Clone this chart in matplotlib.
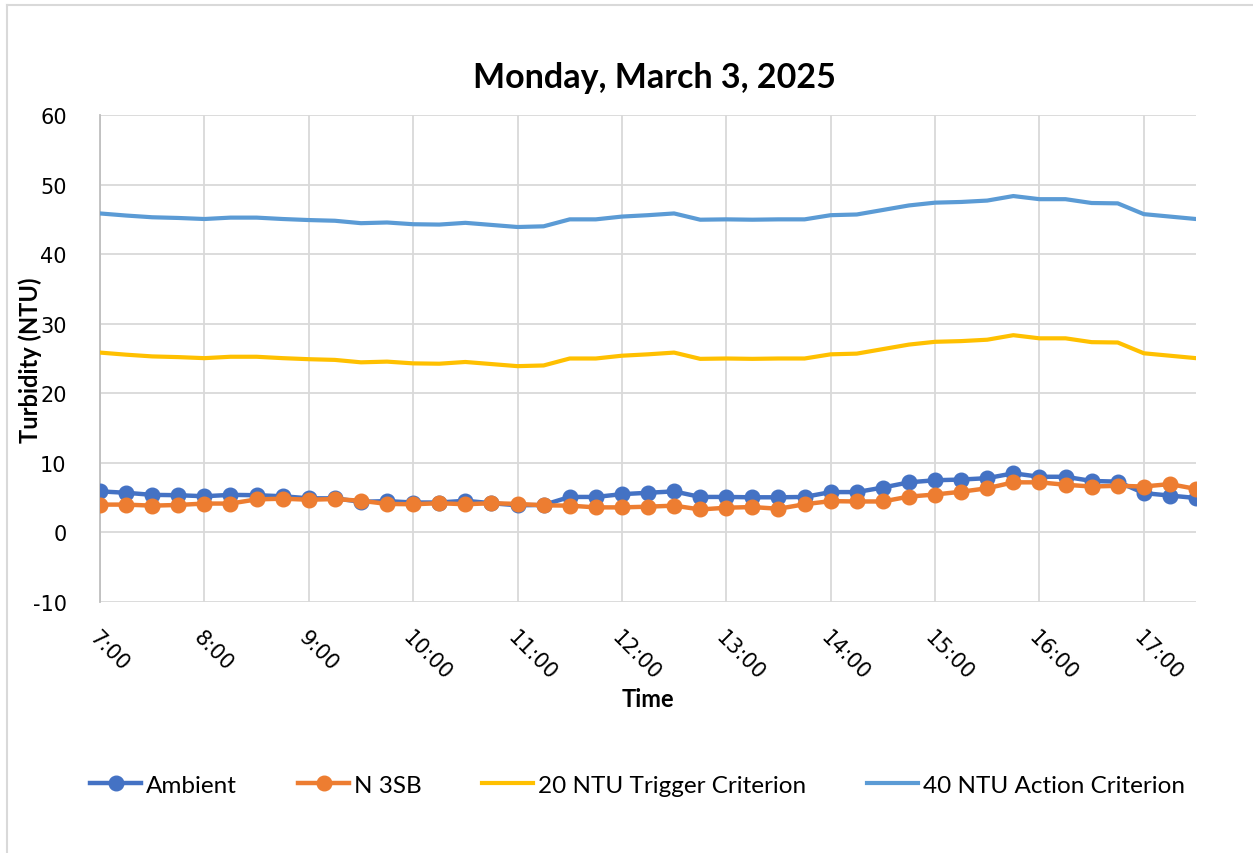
import numpy as np
import matplotlib
matplotlib.use('Agg')
import matplotlib.pyplot as plt
from matplotlib.lines import Line2D

plt.rcParams['font.family'] = ['Lato', 'DejaVu Sans']
plt.rcParams['axes.unicode_minus'] = False

### 15 minute readings, 7:00 to 17:30
times = ['7:00', '7:15', '7:30', '7:45', '8:00', '8:15', '8:30', '8:45',
         '9:00', '9:15', '9:30', '9:45', '10:00', '10:15', '10:30', '10:45',
         '11:00', '11:15', '11:30', '11:45', '12:00', '12:15', '12:30', '12:45',
         '13:00', '13:15', '13:30', '13:45', '14:00', '14:15', '14:30', '14:45',
         '15:00', '15:15', '15:30', '15:45', '16:00', '16:15', '16:30', '16:45',
         '17:00', '17:15', '17:30']
ambient = [5.9, 5.7, 5.4, 5.35, 5.2, 5.4, 5.35, 5.2, 4.9, 4.9, 4.4, 4.5, 4.3, 4.3, 4.55,
           4.2, 3.9, 3.95, 5.1, 5.1, 5.5, 5.7, 5.9, 5.1, 5.1, 5.05, 5.05, 5.1,
           5.8, 5.8, 6.45, 7.2, 7.5, 7.6, 7.8, 8.5, 8.0, 8.0, 7.4, 7.3, 5.65, 5.3, 4.95]
n3sb = [4.0, 4.0, 3.85, 3.95, 4.15, 4.15, 4.75, 4.85, 4.7, 4.8, 4.55, 4.1, 4.05, 4.2, 4.05,
        4.2, 4.1, 3.9, 3.85, 3.6, 3.6, 3.7, 3.85, 3.3, 3.55, 3.65, 3.4, 4.05,
        4.5, 4.45, 4.45, 5.15, 5.45, 5.85, 6.35, 7.2, 7.2, 6.85, 6.6, 6.7, 6.6, 6.95, 6.25]
trigger = [25.85, 25.55, 25.3, 25.2, 25.05, 25.25, 25.25, 25.05, 24.9, 24.8, 24.45, 24.55,
           24.3, 24.25, 24.5, 24.2, 23.9, 24.0, 25.0, 25.0, 25.4, 25.6, 25.85, 24.95,
           25.0, 24.95, 25.0, 25.0, 25.6, 25.7, 26.35, 27.0, 27.4, 27.5, 27.7, 28.35,
           27.9, 27.9, 27.35, 27.3, 25.75, 25.4, 25.05]
action = [45.85, 45.55, 45.3, 45.2, 45.05, 45.25, 45.25, 45.05, 44.9, 44.8, 44.45, 44.55,
          44.3, 44.25, 44.5, 44.2, 43.9, 44.0, 45.0, 45.0, 45.4, 45.6, 45.85, 44.95,
          45.0, 44.95, 45.0, 45.0, 45.6, 45.7, 46.35, 47.0, 47.4, 47.5, 47.7, 48.35,
          47.9, 47.9, 47.35, 47.3, 45.75, 45.4, 45.05]
hour_labels = ['7:00', '8:00', '9:00', '10:00', '11:00', '12:00',
               '13:00', '14:00', '15:00', '16:00', '17:00']

### convert "h:mm" to decimal hours
x = np.array([int(t.split(':')[0]) + int(t.split(':')[1]) / 60 for t in times])
hx = [int(t.split(':')[0]) for t in hour_labels]

fig = plt.figure(figsize=(12.53, 8.54), dpi=100)
ax = fig.add_axes([100/1253, 1-603/854, 1096/1253, 487/854])

ax.plot(x, ambient, color='#4472C4', lw=3.2, marker='o', ms=10.5, label='Ambient', zorder=3)
ax.plot(x, n3sb, color='#ED7D31', lw=3.2, marker='o', ms=10.5, label='N 3SB', zorder=4)
ax.plot(x, trigger, color='#FFC000', lw=3.0, label='20 NTU Trigger Criterion', zorder=3)
ax.plot(x, action, color='#5B9BD5', lw=3.0, label='40 NTU Action Criterion', zorder=3)

ax.set_xlim(7, 17.5)
ax.set_ylim(-10, 60)
ax.set_yticks(range(-10, 61, 10))
ax.set_xticks(hx)
ax.set_xticklabels(hour_labels, rotation=-45, ha='left', va='top', rotation_mode='anchor')
ax.tick_params(axis='both', length=0, labelsize=15, labelfontfamily='DejaVu Sans')
ax.tick_params(axis='y', pad=24)
ax.tick_params(axis='x', pad=18)
ax.grid(True, color='#D9D9D9', lw=1.3)
ax.set_axisbelow(True)
for s in ['top', 'right', 'bottom']:
    ax.spines[s].set_visible(False)
ax.spines['left'].set_color('#BFBFBF')
ax.spines['left'].set_linewidth(1.3)

fig.text(30/1253, 1-360/854, 'Turbidity (NTU)', fontsize=17, fontweight='bold',
         rotation=90, ha='center', va='center')
fig.text(648/1253, 1-700/854, 'Time', fontsize=17, fontweight='bold', ha='center', va='center')
fig.text(654/1253, 1-78/854, 'Monday, March 3, 2025', fontsize=24.5, fontweight='bold',
         ha='center', va='center')

fig.legend(loc='center', bbox_to_anchor=(0.509, 1-786/854), ncol=4, frameon=False,
           fontsize=17.5, handlelength=2.1, handletextpad=0.2, columnspacing=2.5)

### chart border (only left and top visible)
fig.add_artist(Line2D([7/1253, 7/1253], [0, 1-6/854], transform=fig.transFigure,
                      color='#D9D9D9', lw=1.5))
fig.add_artist(Line2D([7/1253, 1], [1-6/854, 1-6/854], transform=fig.transFigure,
                      color='#D9D9D9', lw=1.5))

fig.savefig('out.png', dpi=100)
